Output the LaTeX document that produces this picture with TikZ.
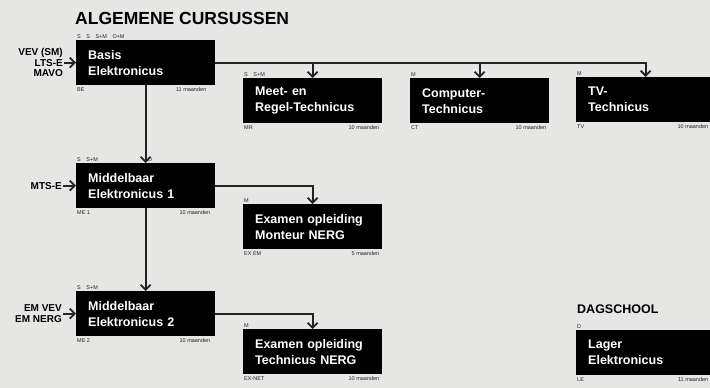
\documentclass[tikz,border=0pt]{standalone}
\usepackage{fontspec}
\setmainfont{Liberation Sans}
\usetikzlibrary{arrows.meta, positioning, calc}
\definecolor{paper}{RGB}{230,230,229}
\definecolor{ink}{RGB}{35,35,35}

\begin{document}
\begin{tikzpicture}[
  x=1pt, y=-1pt,
  course/.style={fill=black, text=white, anchor=north west, minimum width=139pt, minimum height=45pt, inner xsep=12pt, text width=115pt, align=left, font=\fontsize{12.5}{16}\selectfont\bfseries},
  tag/.style={font=\fontsize{5.5}{6}\selectfont, inner sep=1pt, text=ink},
  head/.style={anchor=base west, inner sep=0pt, text=black},
  entry/.style={font=\fontsize{10}{10.5}\selectfont\bfseries, align=right, inner sep=1pt, text=black},
  link/.style={line width=1.8pt, draw=ink},
  arr/.style={-{Straight Barb[length=5pt, width=10pt]}, line width=1.8pt, draw=ink}
]
\fill[paper] (0,0) rectangle (710,388);
\useasboundingbox (0,0) rectangle (710,388);

\node[head, font=\fontsize{17.5}{18}\selectfont\bfseries] (algemeen) at (75,24) {ALGEMENE CURSUSSEN};
\node[head, font=\fontsize{12.5}{13}\selectfont\bfseries] (dagschool) at (577,313) {DAGSCHOOL};

% cursussen
\node[course] (be) at (76,40) {Basis\\Elektronicus};
\node[course] (mr) at (243,78) {Meet- en\\Regel-Technicus};
\node[course] (ct) at (410,78) {Computer-\\Technicus};
\node[course] (tv) at (576,77) {TV-\\Technicus};
\node[course] (me1) at (76,163) {Middelbaar\\Elektronicus 1};
\node[course] (exem) at (243,204) {Examen opleiding\\Monteur NERG};
\node[course] (me2) at (76,291) {Middelbaar\\Elektronicus 2};
\node[course] (exnet) at (243,329) {Examen opleiding\\Technicus NERG};
\node[course] (le) at (576,330) {Lager\\Elektronicus};

% vooropleidingen
\node[entry, left=12pt of be.west] (inbe) {VEV (SM)\\LTS-E\\MAVO};
\node[entry, left=13pt of me1.west] (inme1) {MTS-E};
\node[entry, left=13pt of me2.west] (inme2) {EM VEV\\EM NERG};

% kenmerken
\node[tag, above right=0pt and 0pt of be.north west] (bevorm) {S\quad S\quad S+M\quad O+M};
\node[tag, below right=1pt and 0pt of be.south west] (becode) {BE};
\node[tag, below left=1pt and 8pt of be.south east] (beduur) {11 maanden};
\node[tag, above right=0pt and 0pt of mr.north west] (mrvorm) {S\quad S+M};
\node[tag, below right=1pt and 0pt of mr.south west] (mrcode) {MR};
\node[tag, below left=1pt and 2pt of mr.south east] (mrduur) {10 maanden};
\node[tag, above right=0pt and 0pt of ct.north west] (ctvorm) {M};
\node[tag, below right=1pt and 0pt of ct.south west] (ctcode) {CT};
\node[tag, below left=1pt and 2pt of ct.south east] (ctduur) {10 maanden};
\node[tag, above right=0pt and 0pt of tv.north west] (tvvorm) {M};
\node[tag, below right=1pt and 0pt of tv.south west] (tvcode) {TV};
\node[tag, below left=1pt and 6pt of tv.south east] (tvduur) {10 maanden};
\node[tag, above right=0pt and 0pt of me1.north west] (me1vorm) {S\quad S+M};
\node[tag, above right=0pt and 1pt of me1.north] (me1extra) {O};
\node[tag, below right=1pt and 0pt of me1.south west] (me1code) {ME 1};
\node[tag, below left=1pt and 4pt of me1.south east] (me1duur) {10 maanden};
\node[tag, above right=0pt and 0pt of exem.north west] (exemvorm) {M};
\node[tag, below right=1pt and 0pt of exem.south west] (exemcode) {EX EM};
\node[tag, below left=1pt and 2pt of exem.south east] (exemduur) {5 maanden};
\node[tag, above right=0pt and 0pt of me2.north west] (me2vorm) {S\quad S+M};
\node[tag, below right=1pt and 0pt of me2.south west] (me2code) {ME 2};
\node[tag, below left=1pt and 4pt of me2.south east] (me2duur) {10 maanden};
\node[tag, above right=0pt and 0pt of exnet.north west] (exnetvorm) {M};
\node[tag, below right=1pt and 0pt of exnet.south west] (exnetcode) {EX-NET};
\node[tag, below left=1pt and 2pt of exnet.south east] (exnetduur) {10 maanden};
\node[tag, above right=0pt and 0pt of le.north west] (levorm) {D};
\node[tag, below right=1pt and 0pt of le.south west] (lecode) {LE};
\node[tag, below left=1pt and 6pt of le.south east] (leduur) {11 maanden};

% verbindingen
\draw[arr] (inbe) -- (be);
\draw[arr] (inme1) -- (me1);
\draw[arr] (inme2) -- (me2);
\draw[arr] (be.east) -| (tv.north);
\draw[arr] (be.east -| mr.north) -- (mr.north);
\draw[arr] (be.east -| ct.north) -- (ct.north);
\draw[arr] (be) -- (me1);
\draw[arr] (me1) -- (me2);
\draw[arr] (me1.east) -| (exem.north);
\draw[arr] (me2.east) -| (exnet.north);
\end{tikzpicture}
\end{document}
